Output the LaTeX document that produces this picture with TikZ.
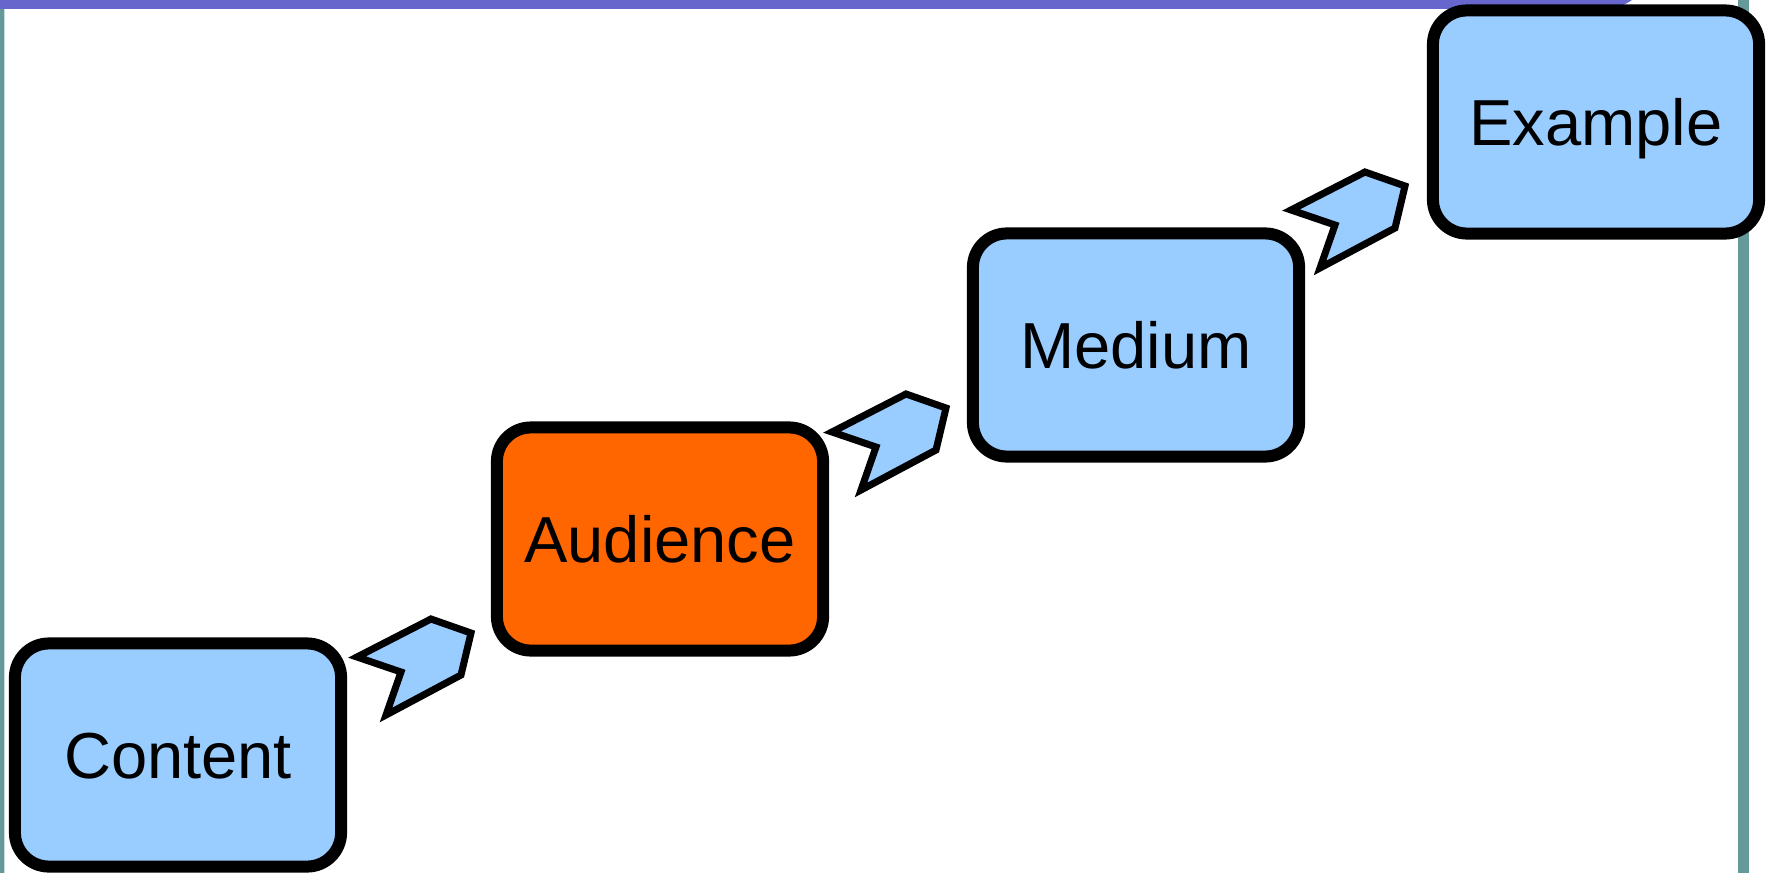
\documentclass[tikz,border=0pt]{standalone}
\usepackage{fontspec}
\setmainfont{Liberation Sans}
\usetikzlibrary{positioning}
\definecolor{stepblue}{RGB}{153,204,255}
\definecolor{steporange}{RGB}{255,102,0}
\definecolor{barpurple}{RGB}{102,102,204}
\definecolor{railteal}{RGB}{102,153,153}

\begin{document}
\begin{tikzpicture}[x=0.01cm, y=-0.01cm,
        stepbox/.style={rectangle, rounded corners=0.34cm, draw=black, line width=0.12cm, fill=stepblue, minimum width=3.26cm, minimum height=2.23cm, text height=0.47cm, text depth=0pt, align=center, font=\fontsize{18.5}{22}\selectfont},
        hotbox/.style={stepbox, fill=steporange},
        chevron/.style={draw=black, line width=0.07cm, fill=stepblue, line join=miter}
    ]
        \useasboundingbox (0,0) rectangle (1773,873);

        % slide frame
        \fill[barpurple] (0,0) -- (1632,0) .. controls (1622,7) and (1612,9) .. (1598,9) -- (0,9) -- cycle;
        \fill[railteal] (0,9) rectangle (4,873);
        \fill[railteal!35] (4,9) rectangle (5,873);
        \fill[railteal] (1738,0) rectangle (1749,873);

        % the four steps
        \node[stepbox] (content) at (178,755) {Content};
        \node[hotbox] (audience) at (660,539) {Audience};
        \node[stepbox] (medium) at (1136,345) {Medium};
        \node[stepbox] (example) at (1596,122) {Example};

        % block arrows between the steps
        \coordinate (a1) at (401,672);
        \coordinate (a2) at (876,447);
        \coordinate (a3) at (1335,225);
        \foreach \a in {a1,a2,a3}
            \draw[chevron, shift={(\a)}] (0,0) -- (-44,-15) -- (30,-53) -- (70,-39) -- (60,3) -- (-15,43) -- cycle;
    \end{tikzpicture}
\end{document}
